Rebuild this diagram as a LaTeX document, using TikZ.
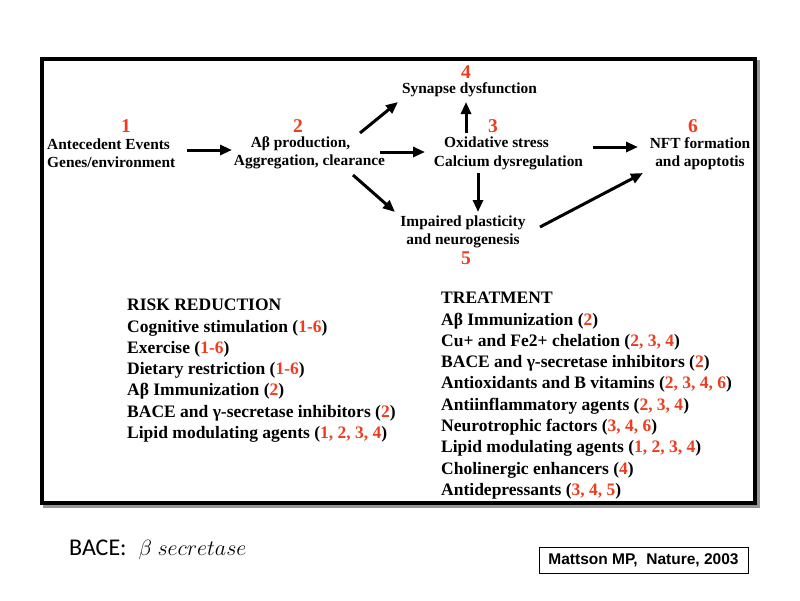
\RequirePackage{fix-cm}
\documentclass[tikz,border=0pt]{standalone}
\usepackage{fontspec}
\setmainfont{Liberation Serif}
\newfontfamily\arialf{Liberation Sans}
\newfontfamily\calib{Carlito}
\usetikzlibrary{arrows.meta}
\definecolor{numred}{RGB}{240,60,30}
\definecolor{shadowgray}{RGB}{150,150,150}
\newcommand{\rn}[1]{\textcolor{numred}{#1}}
\begin{document}
\begin{tikzpicture}[x=1pt,y=-1pt,
  lbl/.style={font=\bfseries\fontsize{15.4}{18.5}\selectfont, align=center, inner sep=0pt},
  num/.style={font=\bfseries\fontsize{19.5}{20}\selectfont, text=numred, inner sep=0pt},
  lst/.style={font=\bfseries\fontsize{17.5}{21.3}\selectfont, align=left, inner sep=0pt, anchor=north west},
  arr/.style={line width=3pt, -{Triangle[length=12pt,width=10pt]}}]
\useasboundingbox (0,0) rectangle (800,600);
\fill[white] (0,0) rectangle (800,600);
% frame with shadow
\draw[shadowgray, line width=4pt] (45,62) rectangle (758,506);
\draw[black, line width=4pt, fill=white] (42,59) rectangle (755,503);
% labels
\node[lbl, align=left, anchor=west] (n1) at (47,153) {Antecedent Events\\Genes/environment};
\node[lbl] (n2) at (309.5,153) {Aβ production,\hspace*{18pt}\\Aggregation, clearance};
\node[lbl] (n4) at (469.5,90) {Synapse dysfunction};
\node[lbl] (n3) at (508.5,153.5) {Oxidative stress\hspace*{24pt}\\Calcium dysregulation};
\node[lbl] (n6) at (700,153.5) {NFT formation\\and apoptotis};
\node[lbl] (n5) at (463,232) {Impaired plasticity\\and neurogenesis};
% numbers
\node[num] (k1) at (126,126.5) {1};
\node[num] (k2) at (298,126.5) {2};
\node[num] (k3) at (493,126.5) {3};
\node[num] (k4) at (466,72.5) {4};
\node[num] (k5) at (466,258) {5};
\node[num] (k6) at (693,126.5) {6};
% arrows
\draw[arr] ([shift={(140,-3)}]n1.west) -- ([shift={(-77.5,-3)}]n2.center);
\draw[arr] ([shift={(50.5,-20)}]n2.center) -- ([shift={(-71.5,12)}]n4.center);
\draw[arr] ([shift={(70.5,-1)}]n2.center) -- ([shift={(-83.5,-1.5)}]n3.center);
\draw[arr] ([shift={(43.5,22)}]n2.center) -- ([shift={(-68,-20)}]n5.center);
\draw[arr] ([shift={(-42.5,-20.5)}]n3.center) -- ([shift={(-3.5,12)}]n4.center);
\draw[arr] ([shift={(84.5,-6.5)}]n3.center) -- ([shift={(-62,-6.5)}]n6.center);
\draw[arr] ([shift={(-30.5,19.5)}]n3.center) -- ([shift={(15,-20)}]n5.center);
\draw[arr] ([shift={(77,-5)}]n5.center) -- ([shift={(-57,19.5)}]n6.center);
% lists
\node[lst] (risk) at (127,299) {RISK REDUCTION\\
Cognitive stimulation (\rn{1-6})\\
Exercise (\rn{1-6})\\
Dietary restriction (\rn{1-6})\\
Aβ Immunization (\rn{2})\\
BACE and γ-secretase inhibitors (\rn{2})\\
Lipid modulating agents (\rn{1, 2, 3, 4})};
\node[lst] (treat) at (441,292) {TREATMENT\\
Aβ Immunization (\rn{2})\\
Cu+ and Fe2+ chelation (\rn{2, 3, 4})\\
BACE and γ-secretase inhibitors (\rn{2})\\
Antioxidants and B vitamins (\rn{2, 3, 4, 6})\\
Antiinflammatory agents (\rn{2, 3, 4})\\
Neurotrophic factors (\rn{3, 4, 6})\\
Lipid modulating agents (\rn{1, 2, 3, 4})\\
Cholinergic enhancers (\rn{4})\\
Antidepressants (\rn{3, 4, 5})};
% footer
\node[anchor=west, inner sep=0pt, font=\fontsize{22}{26}\selectfont] (bace) at (69,550) {{\calib\fontsize{24}{28}\selectfont BACE:}\hspace{12pt}$\beta\ secretase$};
\node[draw, line width=1pt, minimum width=209pt, minimum height=26pt, inner sep=0pt,
  font=\arialf\bfseries\fontsize{15.5}{17}\selectfont] (cite) at (643.5,560) {Mattson MP,\ \ Nature, 2003};
\end{tikzpicture}
\end{document}
